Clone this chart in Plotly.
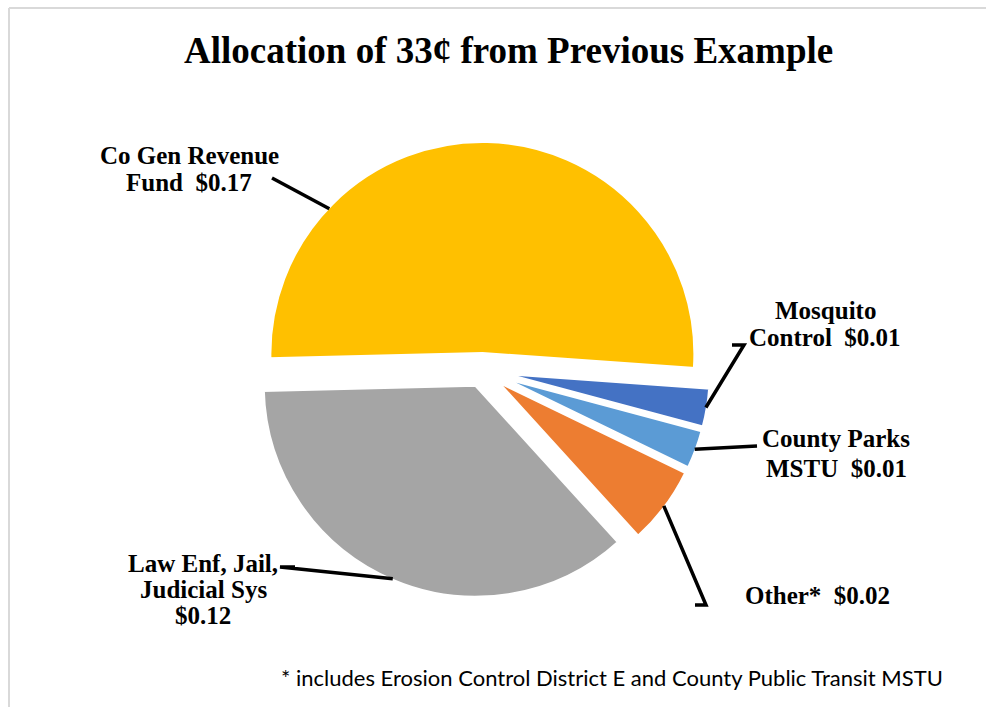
import math
import plotly.graph_objects as go

# ---- data -------------------------------------------------------------
categories = [
    "Co Gen Revenue Fund",
    "Mosquito Control",
    "County Parks MSTU",
    "Other*",
    "Law Enf, Jail, Judicial Sys",
]
values = [0.17, 0.01, 0.01, 0.02, 0.12]
colors = ["#FFC000", "#4472C4", "#5B9BD5", "#ED7D31", "#A5A5A5"]
# label text per slice, "{v}" is replaced by the formatted value
label_lines = [
    ["Co Gen Revenue", "Fund\u00a0 {v}"],
    ["Mosquito", "Control\u00a0 {v}"],
    ["County Parks", "MSTU\u00a0 {v}"],
    ["Other*\u00a0 {v}"],
    ["Law Enf, Jail,", "Judicial Sys", "{v}"],
]
title_text = "Allocation of 33\u00a2 from Previous Example"
footnote = "* includes Erosion Control District E and County Public Transit MSTU"

# ---- layout constants (pixels) ---------------------------------------
W, H = 986, 707
CX, CY = 482.0, 370.0      # pie centre
R = 213.0                  # pie radius
PULL = 0.075               # explosion of every slice
ROT = 268.6                # start angle of first slice, clockwise from 12 o'clock
EDGE = 4                   # white slice outline

# label placement: first line centre, line spacing, and leader line
label_pos = [
    dict(x=189, y=155, dy=28, path=[(272, 178)], angle=313.5),
    dict(x=825, y=310, dy=27, path=[(744, 345), (732, 345)], angle=None),
    dict(x=836, y=438, dy=30, path=[(757, 446)], angle=None),
    dict(x=817, y=595, dy=0, path=[(706, 605), (695, 605)], angle=None),
    dict(x=203, y=563, dy=26, path=[(280, 567), (295, 567)], angle=None),
]


def px(x):
    return x / W


def py(y):
    return 1 - y / H


half = R * (1 + PULL)
fig = go.Figure(
    go.Pie(
        labels=categories,
        values=values,
        sort=False,
        direction="clockwise",
        rotation=ROT,
        pull=[PULL] * len(values),
        marker=dict(colors=colors, line=dict(color="white", width=EDGE)),
        textinfo="none",
        hoverinfo="label+value",
        domain=dict(
            x=[px(CX - half), px(CX + half)],
            y=[py(CY + half), py(CY - half)],
        ),
    )
)

# slice geometry (angles clockwise from 12 o'clock)
total = sum(values)
start = ROT
shapes = []
annotations = []
for i, v in enumerate(values):
    span = 360.0 * v / total
    mid = start + span / 2
    start += span
    m = math.radians(mid)
    ccx = CX + PULL * R * math.sin(m)
    ccy = CY - PULL * R * math.cos(m)
    lp = label_pos[i]
    a = math.radians(lp["angle"] if lp["angle"] is not None else mid)
    ax = ccx + (R - EDGE / 2) * math.sin(a)
    ay = ccy - (R - EDGE / 2) * math.cos(a)
    pts = [(ax, ay)] + lp["path"]
    d = "M " + " L ".join(f"{px(x):.5f},{py(y):.5f}" for x, y in pts)
    shapes.append(dict(type="path", xref="paper", yref="paper", path=d,
                       line=dict(color="black", width=3.5)))
    val = f"${v:.2f}"
    for k, line in enumerate(label_lines[i]):
        annotations.append(dict(
            text="<b>" + line.format(v=val) + "</b>",
            x=px(lp["x"]), y=py(lp["y"] + k * lp["dy"]),
            xref="paper", yref="paper", xanchor="center", yanchor="middle",
            showarrow=False,
            font=dict(family="Liberation Serif", size=25, color="black"),
        ))

# title and footnote
annotations.append(dict(
    text="<b>" + title_text + "</b>", x=px(508.5), y=py(50),
    xref="paper", yref="paper", xanchor="center", yanchor="middle",
    showarrow=False, font=dict(family="Liberation Serif", size=37, color="black"),
))
annotations.append(dict(
    text=footnote, x=px(612), y=py(677),
    xref="paper", yref="paper", xanchor="center", yanchor="middle",
    showarrow=False, font=dict(family="Lato", size=22, color="black"),
))

# light frame along the top and left edges
shapes.append(dict(type="line", xref="paper", yref="paper",
                   x0=px(9), y0=py(8), x1=px(W), y1=py(8),
                   line=dict(color="#D9D9D9", width=2)))
shapes.append(dict(type="line", xref="paper", yref="paper",
                   x0=px(9), y0=py(8), x1=px(9), y1=py(H),
                   line=dict(color="#D9D9D9", width=2)))

fig.update_layout(
    width=W, height=H,
    margin=dict(l=0, r=0, t=0, b=0),
    paper_bgcolor="white", plot_bgcolor="white",
    showlegend=False,
    shapes=shapes,
    annotations=annotations,
)

fig.write_html("out.html")
